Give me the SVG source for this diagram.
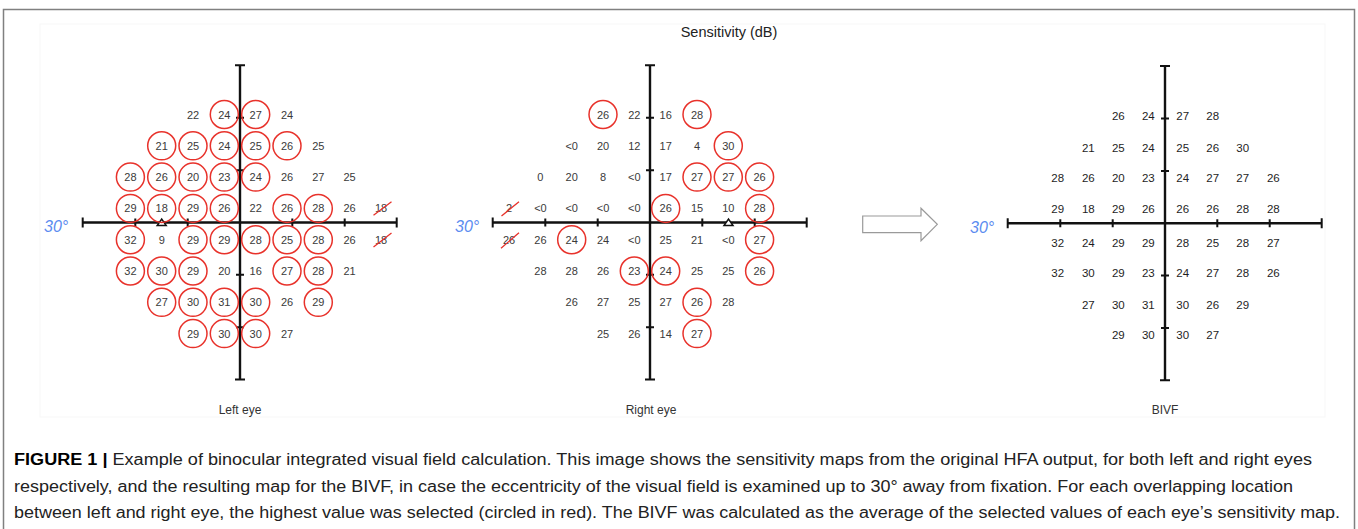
<svg xmlns="http://www.w3.org/2000/svg" xmlns:xlink="http://www.w3.org/1999/xlink" width="1358" height="529" viewBox="0 0 1358 529">
<style>
.ax{fill:none;stroke:#111;stroke-width:2.4}
.tk{fill:none;stroke:#111;stroke-width:2}
.n{font-family:"Liberation Sans",Arial,sans-serif;font-size:11px;fill:#3a3a3a;text-anchor:middle}
.b{font-family:"Liberation Sans",Arial,sans-serif;font-size:11.5px;fill:#1e1e1e;text-anchor:middle}
.c{fill:none;stroke:#e8322b;stroke-width:1.5}
.x{stroke:#e8322b;stroke-width:1.3}
.deg{font-family:"Liberation Sans",Arial,sans-serif;font-size:16px;font-style:italic;fill:#5b8cf0}
.lab{font-family:"Liberation Sans",Arial,sans-serif;font-size:12px;fill:#333;text-anchor:middle}
.cap{font-family:"Liberation Sans",Arial,sans-serif;font-size:16px;fill:#222}
.bs{fill:#fff;stroke:#111;stroke-width:1.5}
.arr{fill:#fff;stroke:#9a9a9a;stroke-width:1.2}
</style>
<defs>
<g id="axes">
<path class="ax" d="M-157.3,0H156.7M0,-157.3V157"/>
<path class="tk" d="M-157.3,-5V5M156.7,-5V5M-5,-157.3H5M-5,157H5M-104.7,-4V4M-52.3,-4V4M52.3,-4V4M104.7,-4V4M-4,-104.7H4M-4,-52.3H4M-4,52.3H4M-4,104.7H4"/>
</g>
</defs>
<rect width="1358" height="529" fill="#fff"/>
<path d="M3.5,529V9.5H1354.5V529" fill="none" stroke="#808080" stroke-width="1.5"/>
<rect x="40" y="24" width="1285" height="393" fill="none" stroke="#f7f7f7" stroke-width="1"/>
<text x="729" y="37" font-family="'Liberation Sans',Arial,sans-serif" font-size="14.5" fill="#222" text-anchor="middle">Sensitivity (dB)</text>

<g id="left-eye" transform="translate(240,222.5)">
<use xlink:href="#axes"/>
<path class="bs" d="M-82.8,3H-73.8L-78.3,-3.5Z"/>
<g class="c">
<circle cx="-15.7" cy="-108" r="14"/><circle cx="15.7" cy="-108" r="14"/>
<circle cx="-78.3" cy="-76.7" r="14"/><circle cx="-47" cy="-76.7" r="14"/><circle cx="-15.7" cy="-76.7" r="14"/><circle cx="15.7" cy="-76.7" r="14"/><circle cx="47" cy="-76.7" r="14"/>
<circle cx="-109.6" cy="-45.4" r="14"/><circle cx="-78.3" cy="-45.4" r="14"/><circle cx="-47" cy="-45.4" r="14"/><circle cx="-15.7" cy="-45.4" r="14"/><circle cx="15.7" cy="-45.4" r="14"/>
<circle cx="-109.6" cy="-14.1" r="14"/><circle cx="-78.3" cy="-14.1" r="14"/><circle cx="-47" cy="-14.1" r="14"/><circle cx="-15.7" cy="-14.1" r="14"/><circle cx="47" cy="-14.1" r="14"/><circle cx="78.3" cy="-14.1" r="14"/>
<circle cx="-109.6" cy="17.2" r="14"/><circle cx="-47" cy="17.2" r="14"/><circle cx="-15.7" cy="17.2" r="14"/><circle cx="15.7" cy="17.2" r="14"/><circle cx="47" cy="17.2" r="14"/><circle cx="78.3" cy="17.2" r="14"/>
<circle cx="-109.6" cy="48.5" r="14"/><circle cx="-78.3" cy="48.5" r="14"/><circle cx="-47" cy="48.5" r="14"/><circle cx="47" cy="48.5" r="14"/><circle cx="78.3" cy="48.5" r="14"/>
<circle cx="-78.3" cy="79.8" r="14"/><circle cx="-47" cy="79.8" r="14"/><circle cx="-15.7" cy="79.8" r="14"/><circle cx="15.7" cy="79.8" r="14"/><circle cx="78.3" cy="79.8" r="14"/>
<circle cx="-47" cy="111.1" r="14"/><circle cx="-15.7" cy="111.1" r="14"/><circle cx="15.7" cy="111.1" r="14"/>
</g>
<g class="n">
<text x="-47" y="-104">22</text><text x="-15.7" y="-104">24</text><text x="15.7" y="-104">27</text><text x="47" y="-104">24</text>
<text x="-78.3" y="-72.7">21</text><text x="-47" y="-72.7">25</text><text x="-15.7" y="-72.7">24</text><text x="15.7" y="-72.7">25</text><text x="47" y="-72.7">26</text><text x="78.3" y="-72.7">25</text>
<text x="-109.6" y="-41.4">28</text><text x="-78.3" y="-41.4">26</text><text x="-47" y="-41.4">20</text><text x="-15.7" y="-41.4">23</text><text x="15.7" y="-41.4">24</text><text x="47" y="-41.4">26</text><text x="78.3" y="-41.4">27</text><text x="109.6" y="-41.4">25</text>
<text x="-109.6" y="-10.1">29</text><text x="-78.3" y="-10.1">18</text><text x="-47" y="-10.1">29</text><text x="-15.7" y="-10.1">26</text><text x="15.7" y="-10.1">22</text><text x="47" y="-10.1">26</text><text x="78.3" y="-10.1">28</text><text x="109.6" y="-10.1">26</text><text x="141" y="-10.1">18</text>
<text x="-109.6" y="21.2">32</text><text x="-78.3" y="21.2">9</text><text x="-47" y="21.2">29</text><text x="-15.7" y="21.2">29</text><text x="15.7" y="21.2">28</text><text x="47" y="21.2">25</text><text x="78.3" y="21.2">28</text><text x="109.6" y="21.2">26</text><text x="141" y="21.2">18</text>
<text x="-109.6" y="52.5">32</text><text x="-78.3" y="52.5">30</text><text x="-47" y="52.5">29</text><text x="-15.7" y="52.5">20</text><text x="15.7" y="52.5">16</text><text x="47" y="52.5">27</text><text x="78.3" y="52.5">28</text><text x="109.6" y="52.5">21</text>
<text x="-78.3" y="83.8">27</text><text x="-47" y="83.8">30</text><text x="-15.7" y="83.8">31</text><text x="15.7" y="83.8">30</text><text x="47" y="83.8">26</text><text x="78.3" y="83.8">29</text>
<text x="-47" y="115.1">29</text><text x="-15.7" y="115.1">30</text><text x="15.7" y="115.1">30</text><text x="47" y="115.1">27</text>
</g>
<path class="x" d="M133.5,-7.2L151.5,-20.8M133.5,24.5L151.5,10.5"/>
<text class="deg" x="-196" y="9.5">30°</text>
<text class="lab" x="0" y="191.5">Left eye</text>
</g>

<g id="right-eye" transform="translate(650,222.5)">
<use xlink:href="#axes"/>
<path class="bs" d="M74,3H83L78.5,-3.5Z"/>
<g class="c">
<circle cx="-47" cy="-108" r="14"/><circle cx="47" cy="-108" r="14"/>
<circle cx="78.3" cy="-76.7" r="14"/>
<circle cx="47" cy="-45.4" r="14"/><circle cx="78.3" cy="-45.4" r="14"/><circle cx="109.6" cy="-45.4" r="14"/>
<circle cx="15.7" cy="-14.1" r="14"/><circle cx="109.6" cy="-14.1" r="14"/>
<circle cx="-78.3" cy="17.2" r="14"/><circle cx="109.6" cy="17.2" r="14"/>
<circle cx="-15.7" cy="48.5" r="14"/><circle cx="15.7" cy="48.5" r="14"/><circle cx="109.6" cy="48.5" r="14"/>
<circle cx="47" cy="79.8" r="14"/>
<circle cx="47" cy="111.1" r="14"/>
</g>
<g class="n">
<text x="-47" y="-104">26</text><text x="-15.7" y="-104">22</text><text x="15.7" y="-104">16</text><text x="47" y="-104">28</text>
<text x="-78.3" y="-72.7">&lt;0</text><text x="-47" y="-72.7">20</text><text x="-15.7" y="-72.7">12</text><text x="15.7" y="-72.7">17</text><text x="47" y="-72.7">4</text><text x="78.3" y="-72.7">30</text>
<text x="-109.6" y="-41.4">0</text><text x="-78.3" y="-41.4">20</text><text x="-47" y="-41.4">8</text><text x="-15.7" y="-41.4">&lt;0</text><text x="15.7" y="-41.4">17</text><text x="47" y="-41.4">27</text><text x="78.3" y="-41.4">27</text><text x="109.6" y="-41.4">26</text>
<text x="-141" y="-10.1">2</text><text x="-109.6" y="-10.1">&lt;0</text><text x="-78.3" y="-10.1">&lt;0</text><text x="-47" y="-10.1">&lt;0</text><text x="-15.7" y="-10.1">&lt;0</text><text x="15.7" y="-10.1">26</text><text x="47" y="-10.1">15</text><text x="78.3" y="-10.1">10</text><text x="109.6" y="-10.1">28</text>
<text x="-141" y="21.2">26</text><text x="-109.6" y="21.2">26</text><text x="-78.3" y="21.2">24</text><text x="-47" y="21.2">24</text><text x="-15.7" y="21.2">&lt;0</text><text x="15.7" y="21.2">25</text><text x="47" y="21.2">21</text><text x="78.3" y="21.2">&lt;0</text><text x="109.6" y="21.2">27</text>
<text x="-109.6" y="52.5">28</text><text x="-78.3" y="52.5">28</text><text x="-47" y="52.5">26</text><text x="-15.7" y="52.5">23</text><text x="15.7" y="52.5">24</text><text x="47" y="52.5">25</text><text x="78.3" y="52.5">25</text><text x="109.6" y="52.5">26</text>
<text x="-78.3" y="83.8">26</text><text x="-47" y="83.8">27</text><text x="-15.7" y="83.8">25</text><text x="15.7" y="83.8">27</text><text x="47" y="83.8">26</text><text x="78.3" y="83.8">28</text>
<text x="-47" y="115.1">25</text><text x="-15.7" y="115.1">26</text><text x="15.7" y="115.1">14</text><text x="47" y="115.1">27</text>
</g>
<path class="x" d="M-148.5,-6.5L-131,-20.8M-149,25.8L-131,10.2"/>
<text class="deg" x="-195" y="9.5">30°</text>
<text class="lab" x="1" y="191.5">Right eye</text>
</g>

<g id="arrow">
<path class="arr" d="M862.7,216H921V208.3L937.3,224.3L921,240.7V232.7H862.7Z"/>
</g>

<g id="bivf" transform="translate(1165,223.3)">
<use xlink:href="#axes"/>
<g class="b">
<text x="-46.7" y="-103.3">26</text><text x="-16.7" y="-103.3">24</text><text x="17.7" y="-103.3">27</text><text x="47.7" y="-103.3">28</text>
<text x="-76.7" y="-71.6">21</text><text x="-46.7" y="-71.6">25</text><text x="-16.7" y="-71.6">24</text><text x="17.7" y="-71.6">25</text><text x="47.7" y="-71.6">26</text><text x="77.7" y="-71.6">30</text>
<text x="-107.3" y="-41.6">28</text><text x="-76.7" y="-41.6">26</text><text x="-46.7" y="-41.6">20</text><text x="-16.7" y="-41.6">23</text><text x="17.7" y="-41.6">24</text><text x="47.7" y="-41.6">27</text><text x="77.7" y="-41.6">27</text><text x="108.3" y="-41.6">26</text>
<text x="-107.3" y="-10.3">29</text><text x="-76.7" y="-10.3">18</text><text x="-46.7" y="-10.3">29</text><text x="-16.7" y="-10.3">26</text><text x="17.7" y="-10.3">26</text><text x="47.7" y="-10.3">26</text><text x="77.7" y="-10.3">28</text><text x="108.3" y="-10.3">28</text>
<text x="-107.3" y="23.4">32</text><text x="-76.7" y="23.4">24</text><text x="-46.7" y="23.4">29</text><text x="-16.7" y="23.4">29</text><text x="17.7" y="23.4">28</text><text x="47.7" y="23.4">25</text><text x="77.7" y="23.4">28</text><text x="108.3" y="23.4">27</text>
<text x="-107.3" y="54">32</text><text x="-76.7" y="54">30</text><text x="-46.7" y="54">29</text><text x="-16.7" y="54">23</text><text x="17.7" y="54">24</text><text x="47.7" y="54">27</text><text x="77.7" y="54">28</text><text x="108.3" y="54">26</text>
<text x="-76.7" y="85.7">27</text><text x="-46.7" y="85.7">30</text><text x="-16.7" y="85.7">31</text><text x="17.7" y="85.7">30</text><text x="47.7" y="85.7">26</text><text x="77.7" y="85.7">29</text>
<text x="-46.7" y="115.7">29</text><text x="-16.7" y="115.7">30</text><text x="17.7" y="115.7">30</text><text x="47.7" y="115.7">27</text>
</g>
<text class="deg" x="-195" y="10">30°</text>
<text class="lab" x="0" y="190.7">BIVF</text>
</g>

<g id="caption" class="cap">
<text x="14" y="465" textLength="1298" lengthAdjust="spacingAndGlyphs"><tspan font-weight="bold" fill="#000">FIGURE 1 |</tspan> Example of binocular integrated visual field calculation. This image shows the sensitivity maps from the original HFA output, for both left and right eyes</text>
<text x="14" y="492" textLength="1279" lengthAdjust="spacingAndGlyphs">respectively, and the resulting map for the BIVF, in case the eccentricity of the visual field is examined up to 30° away from fixation. For each overlapping location</text>
<text x="14" y="518" textLength="1326" lengthAdjust="spacingAndGlyphs">between left and right eye, the highest value was selected (circled in red). The BIVF was calculated as the average of the selected values of each eye’s sensitivity map.</text>
</g>
</svg>
